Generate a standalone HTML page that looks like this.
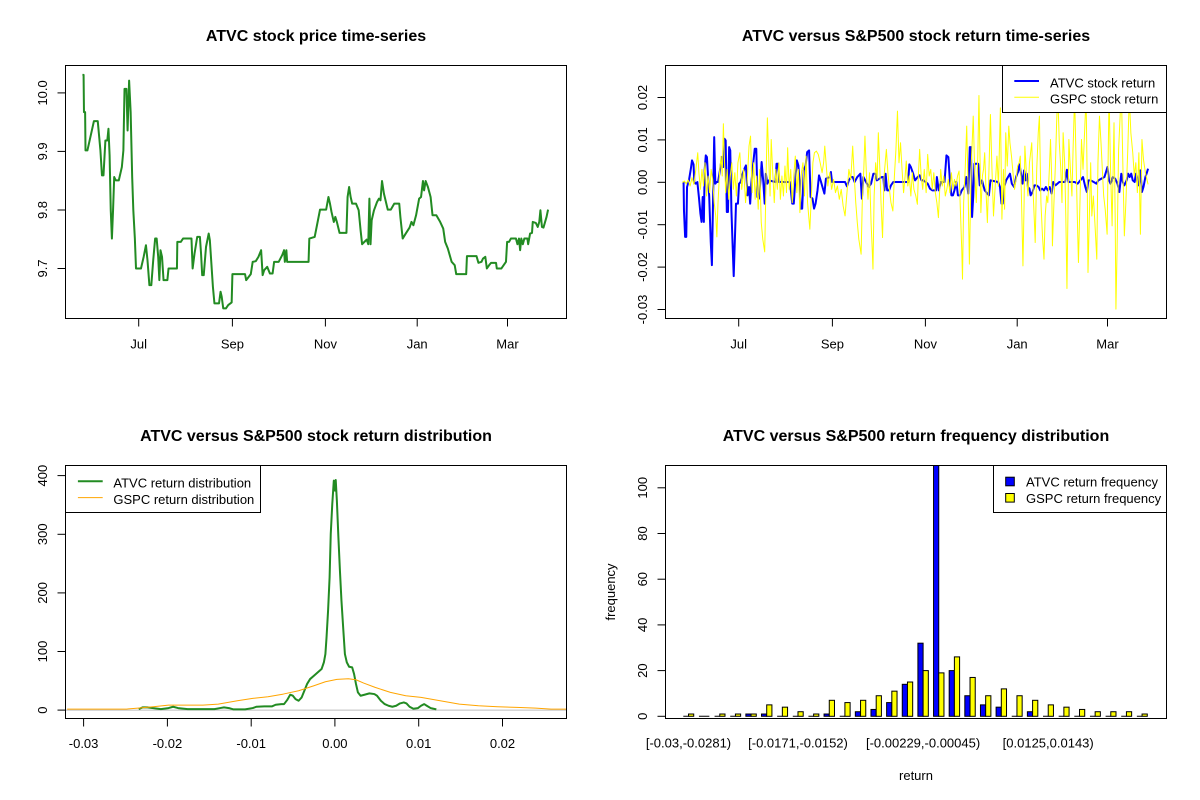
<!DOCTYPE html>
<html><head><meta charset="utf-8"><style>
html,body{margin:0;padding:0;background:#fff;}
svg{display:block;}
text{font-family:"Liberation Sans",Arial,sans-serif;fill:#000;}
.t{font-size:16px;font-weight:bold;}
.a{font-size:13px;}
</style></head><body>
<svg width="1200" height="800" viewBox="0 0 1200 800" xmlns="http://www.w3.org/2000/svg">
<rect width="1200" height="800" fill="#fff"/>
<defs>
<clipPath id="c1"><rect x="65.5" y="65.5" width="501" height="253"/></clipPath>
<clipPath id="c2"><rect x="665.5" y="65.5" width="501" height="253"/></clipPath>
<clipPath id="c3"><rect x="65.5" y="465.5" width="501" height="253"/></clipPath>
<clipPath id="c4"><rect x="665.5" y="465.5" width="501" height="253"/></clipPath>
</defs>

<!-- ===== Panel 1 ===== -->
<text class="t" x="316" y="41" text-anchor="middle">ATVC stock price time-series</text>
<g clip-path="url(#c1)">
<g transform="matrix(0.3826 0 0 0.3326 0.18 40.66)">
<polyline fill="none" stroke="#228B22" stroke-width="2" vector-effect="non-scaling-stroke" stroke-linejoin="round" points="215,103 218,103 219,215 222,215 223,330 228,330 245,242 255,242 262,330 266,405 270,405 275,300 280,300 283,265 286,345 289,510 292,595 295,510 298,410 302,420 310,420 318,380 322,330 325,145 330,145 333,270 337,120 341,215 345,410 348,510 352,595 355,685 368,685 375,650 381,615 385,660 390,735 395,735 400,660 405,595 409,595 413,650 416,720 419,630 423,650 427,720 437,720 440,685 462,685 463,605 472,605 478,595 500,595 503,685 508,640 515,590 522,590 525,640 528,705 532,705 538,620 545,580 548,600 556,740 560,790 572,790 576,755 579,770 583,805 590,805 596,795 605,787 607,702 640,702 643,720 655,702 660,665 668,663 675,650 682,630 686,705 690,690 698,680 705,700 712,700 716,665 728,665 737,645 742,630 744,665 748,630 750,665 806,665 808,595 822,590 828,555 836,508 852,508 858,470 862,490 866,515 872,545 876,530 880,545 887,578 905,578 908,470 912,440 916,470 920,490 930,490 937,510 942,570 946,612 952,605 958,598 962,612 965,475 968,612 971,540 977,510 985,485 990,475 994,480 998,422 1003,460 1013,508 1021,508 1030,490 1043,490 1046,530 1052,595 1060,580 1070,562 1075,545 1080,555 1087,525 1095,475 1100,470 1105,422 1108,450 1112,422 1118,440 1125,470 1130,525 1140,525 1150,545 1158,565 1163,605 1170,625 1180,665 1188,675 1192,702 1218,702 1220,648 1245,648 1250,668 1258,665 1262,655 1268,650 1272,685 1278,675 1283,668 1296,668 1298,685 1310,685 1322,665 1325,605 1330,605 1335,595 1348,595 1352,612 1356,595 1359,630 1362,595 1366,612 1370,595 1378,595 1380,612 1385,580 1390,578 1392,545 1400,548 1405,560 1409,545 1412,510 1416,560 1420,562 1428,530 1432,508"/>
</g></g>
<rect x="65.5" y="65.5" width="501" height="253" fill="none" stroke="#000" stroke-width="1"/>
<g stroke="#000" stroke-width="1">
<line x1="138.7" y1="318.5" x2="138.7" y2="326.5"/><line x1="232.4" y1="318.5" x2="232.4" y2="326.5"/><line x1="325.4" y1="318.5" x2="325.4" y2="326.5"/><line x1="417.2" y1="318.5" x2="417.2" y2="326.5"/><line x1="507.5" y1="318.5" x2="507.5" y2="326.5"/>
<line x1="57.5" y1="268.5" x2="65.5" y2="268.5"/><line x1="57.5" y1="210" x2="65.5" y2="210"/><line x1="57.5" y1="151.4" x2="65.5" y2="151.4"/><line x1="57.5" y1="92.9" x2="65.5" y2="92.9"/>
</g>
<g class="a" font-size="13">
<text class="a" x="138.7" y="348.3" text-anchor="middle">Jul</text>
<text class="a" x="232.4" y="348.3" text-anchor="middle">Sep</text>
<text class="a" x="325.4" y="348.3" text-anchor="middle">Nov</text>
<text class="a" x="417.2" y="348.3" text-anchor="middle">Jan</text>
<text class="a" x="507.5" y="348.3" text-anchor="middle">Mar</text>
<text class="a" transform="translate(47,268.5) rotate(-90)" text-anchor="middle">9.7</text>
<text class="a" transform="translate(47,210) rotate(-90)" text-anchor="middle">9.8</text>
<text class="a" transform="translate(47,151.4) rotate(-90)" text-anchor="middle">9.9</text>
<text class="a" transform="translate(47,92.9) rotate(-90)" text-anchor="middle">10.0</text>
</g>

<!-- ===== Panel 2 ===== -->
<text class="t" x="916" y="41" text-anchor="middle">ATVC versus S&amp;P500 stock return time-series</text>
<g clip-path="url(#c2)">
<g transform="translate(600,0) matrix(0.3826 0 0 0.3326 0.18 40.66)">
<polyline fill="none" stroke="#0000FF" stroke-width="2" vector-effect="non-scaling-stroke" stroke-linejoin="round" points="215,427 218,427 219,510 222,590 225,590 227,440 232,420 237,385 240,360 244,372 246,425 250,430 254,425 258,470 262,520 265,545 268,470 271,545 273,390 276,345 279,350 282,410 285,470 289,605 292,675 295,480 298,290 301,430 304,425 308,425 313,390 318,350 322,380 325,295 328,300 331,515 334,515 337,320 340,330 343,510 346,610 349,708 352,600 355,490 360,490 363,430 367,425 371,405 377,385 381,375 385,465 389,440 392,490 395,430 399,380 404,325 408,325 411,470 415,475 419,420 422,365 426,420 430,490 433,400 437,430 441,420 458,425 461,370 465,370 468,425 490,425 496,425 502,490 506,490 510,420 514,360 518,375 521,420 524,505 528,505 532,390 537,375 541,335 546,330 550,470 555,475 559,505 563,490 568,450 572,405 576,420 581,440 586,460 590,415 600,410 603,395 606,425 640,425 645,438 650,420 656,410 660,410 665,425 672,410 680,400 684,475 688,410 695,425 702,440 708,430 714,400 720,400 723,420 730,415 736,410 740,410 743,450 746,400 750,450 755,450 760,435 766,425 805,425 808,372 812,380 818,400 823,420 830,410 835,405 840,420 845,420 856,430 862,445 868,450 878,450 880,410 885,450 890,425 900,425 905,345 910,350 914,420 918,465 922,465 926,450 931,425 935,465 940,465 945,450 952,440 957,410 962,460 966,320 969,320 972,530 975,470 978,370 983,370 988,370 992,435 998,420 1005,450 1012,460 1016,465 1020,420 1040,425 1045,440 1049,490 1052,490 1056,440 1061,420 1066,410 1071,400 1076,430 1082,440 1087,410 1092,395 1096,372 1100,400 1104,430 1108,390 1112,420 1115,400 1118,440 1122,445 1125,465 1130,455 1135,435 1140,435 1146,440 1150,450 1155,445 1160,450 1165,440 1170,450 1175,440 1180,460 1184,425 1190,435 1200,425 1215,425 1220,388 1224,425 1232,425 1240,425 1248,430 1255,420 1262,410 1268,440 1272,455 1276,420 1282,420 1290,425 1297,430 1302,420 1310,415 1318,410 1322,395 1326,380 1330,420 1334,430 1340,410 1346,415 1352,430 1357,455 1362,400 1366,425 1370,435 1376,420 1380,400 1384,410 1388,400 1392,420 1397,425 1400,400 1404,425 1408,435 1412,390 1416,455 1420,440 1425,410 1428,400 1432,385"/>
<g transform="translate(0,427) scale(1,-1)">
<polyline fill="none" stroke="#FFFF00" stroke-width="1" vector-effect="non-scaling-stroke" stroke-linejoin="round" points="215,0 220,5 225,-3 230,8 235,-10 240,15 245,-5 250,40 255,90 258,30 262,-20 266,40 270,-10 274,60 278,-40 282,20 286,-30 290,40 294,10 298,-60 302,-100 305,-163 308,-60 312,30 316,80 319,20 322,177 325,60 328,-30 332,40 336,-50 340,20 344,60 348,-20 352,30 356,-40 360,60 365,90 370,-20 375,40 380,-60 385,20 389,110 393,140 397,-30 401,60 405,-50 409,20 413,-80 417,40 421,-120 425,-170 430,-208 434,40 437,195 441,60 444,-40 447,130 451,30 455,-60 459,40 463,-20 467,60 471,-50 475,20 479,-40 483,50 487,-30 490,105 494,-20 498,40 502,-60 506,20 510,80 514,-30 518,40 522,-90 526,30 530,60 534,-40 538,80 542,-60 545,-100 548,-140 552,-40 556,60 560,90 565,95 570,85 575,60 580,30 584,60 587,110 591,50 595,-10 600,30 605,-20 610,10 615,-30 620,-10 625,-50 630,-20 635,-70 640,-100 645,-30 650,40 655,10 660,110 664,20 668,-60 672,-120 676,-170 680,-200 682,-215 685,-60 689,40 692,140 696,20 700,-50 704,30 708,-120 711,-200 713,-260 716,-40 720,60 724,10 727,150 731,40 734,-60 738,-165 742,20 745,60 748,100 752,30 756,-20 760,-60 765,-85 769,20 773,100 777,215 781,60 785,120 789,40 793,-30 797,20 800,65 804,-10 808,20 812,-40 816,30 820,-20 825,-40 829,-65 832,30 835,100 839,20 843,-20 847,40 852,-30 856,85 860,20 864,40 868,-20 872,30 876,-30 880,-60 884,-105 887,-30 890,40 894,-10 898,20 902,-40 906,-20 910,10 914,-30 918,30 922,-20 926,10 930,-10 934,20 938,35 942,-100 945,-200 947,-290 950,-60 954,40 958,170 961,20 965,-245 968,-60 970,60 973,140 975,200 979,30 983,-60 987,80 990,262 993,60 995,-90 999,20 1002,40 1005,90 1009,-40 1012,-120 1016,30 1020,205 1024,40 1028,-100 1032,-20 1037,80 1041,-10 1046,225 1050,-110 1054,40 1057,-80 1060,150 1064,50 1068,170 1071,120 1075,80 1079,30 1083,-20 1087,10 1091,50 1095,60 1098,80 1101,-40 1105,-250 1108,-60 1110,110 1114,30 1118,-40 1122,60 1125,90 1128,120 1132,-40 1135,-120 1137,-180 1141,40 1145,150 1148,200 1152,-60 1156,-160 1160,-230 1163,-100 1167,-40 1170,-60 1174,40 1177,130 1180,20 1182,-190 1186,-60 1190,60 1193,180 1196,270 1200,120 1204,40 1207,-60 1210,150 1214,60 1217,-100 1220,-318 1223,-60 1225,130 1229,40 1233,-40 1236,100 1240,260 1244,60 1247,-100 1250,-240 1254,-60 1258,130 1262,40 1266,150 1270,260 1273,0 1275,-270 1279,-80 1282,60 1285,-100 1289,-40 1293,-120 1298,-230 1301,60 1305,200 1309,120 1312,50 1316,-40 1320,-80 1325,-155 1328,100 1330,260 1334,40 1338,-130 1341,60 1343,180 1346,-100 1348,-380 1351,-200 1355,100 1359,200 1362,290 1366,60 1370,-160 1374,-60 1379,100 1383,260 1387,150 1392,90 1396,20 1400,60 1404,-30 1408,90 1412,-155 1416,130 1420,70 1425,30 1429,10 1432,-5"/>
</g>
</g></g>
<rect x="665.5" y="65.5" width="501" height="253" fill="none" stroke="#000" stroke-width="1"/>
<rect x="1002.5" y="65.5" width="164" height="47" fill="#fff" stroke="#000" stroke-width="1"/>
<line x1="1014.3" y1="81" x2="1039" y2="81" stroke="#0000FF" stroke-width="2"/>
<line x1="1014.3" y1="97.3" x2="1039" y2="97.3" stroke="#FFFF00" stroke-width="1"/>
<text class="a" x="1050" y="87.3">ATVC stock return</text>
<text class="a" x="1050" y="103.6">GSPC stock return</text>
<g stroke="#000" stroke-width="1">
<line x1="738.7" y1="318.5" x2="738.7" y2="326.5"/><line x1="832.4" y1="318.5" x2="832.4" y2="326.5"/><line x1="925.4" y1="318.5" x2="925.4" y2="326.5"/><line x1="1017.2" y1="318.5" x2="1017.2" y2="326.5"/><line x1="1107.5" y1="318.5" x2="1107.5" y2="326.5"/>
<line x1="657.5" y1="97.5" x2="665.5" y2="97.5"/><line x1="657.5" y1="139.9" x2="665.5" y2="139.9"/><line x1="657.5" y1="182.3" x2="665.5" y2="182.3"/><line x1="657.5" y1="224.7" x2="665.5" y2="224.7"/><line x1="657.5" y1="267.1" x2="665.5" y2="267.1"/><line x1="657.5" y1="309.5" x2="665.5" y2="309.5"/>
</g>
<text class="a" x="738.7" y="348.3" text-anchor="middle">Jul</text>
<text class="a" x="832.4" y="348.3" text-anchor="middle">Sep</text>
<text class="a" x="925.4" y="348.3" text-anchor="middle">Nov</text>
<text class="a" x="1017.2" y="348.3" text-anchor="middle">Jan</text>
<text class="a" x="1107.5" y="348.3" text-anchor="middle">Mar</text>
<text class="a" transform="translate(647,97.5) rotate(-90)" text-anchor="middle">0.02</text>
<text class="a" transform="translate(647,139.9) rotate(-90)" text-anchor="middle">0.01</text>
<text class="a" transform="translate(647,182.3) rotate(-90)" text-anchor="middle">0.00</text>
<text class="a" transform="translate(647,224.7) rotate(-90)" text-anchor="middle">-0.01</text>
<text class="a" transform="translate(647,267.1) rotate(-90)" text-anchor="middle">-0.02</text>
<text class="a" transform="translate(647,309.5) rotate(-90)" text-anchor="middle">-0.03</text>

<!-- ===== Panel 3 ===== -->
<text class="t" x="316" y="441" text-anchor="middle">ATVC versus S&amp;P500 stock return distribution</text>
<g clip-path="url(#c3)">
<line x1="65.5" y1="710.1" x2="566.5" y2="710.1" stroke="#BEBEBE" stroke-width="1"/>
<g transform="matrix(0.3826 0 0 0.3335 0.18 420.6)">
<polyline fill="none" stroke="#228B22" stroke-width="2" vector-effect="non-scaling-stroke" stroke-linejoin="round" points="362,865 372,860 385,860 400,862 420,865 440,862 452,858 465,862 490,865 520,865 560,865 575,862 585,860 598,862 610,866 640,866 660,862 670,858 690,857 710,857 720,852 735,850 742,850 750,838 758,822 765,825 772,835 780,840 788,830 795,810 802,790 810,775 820,765 830,755 840,745 846,725 850,700 853,650 857,570 861,470 864,340 868,250 872,180 875,210 877,178 880,240 884,350 888,450 892,540 897,630 901,700 906,725 912,738 920,740 925,760 930,790 935,815 942,825 952,822 965,818 978,820 985,825 995,840 1005,850 1015,855 1025,858 1035,855 1045,848 1055,845 1062,848 1070,858 1080,864 1092,862 1100,855 1108,850 1115,855 1125,862 1140,866"/>
<polyline fill="none" stroke="#FFA500" stroke-width="1" vector-effect="non-scaling-stroke" stroke-linejoin="round" points="175,865 330,865 360,862 400,858 440,853 480,853 530,853 570,850 620,840 660,833 700,828 740,820 780,810 820,795 850,783 880,776 910,774 930,777 950,787 980,800 1020,815 1060,825 1100,830 1150,840 1200,850 1250,855 1300,858 1350,860 1400,862 1440,865 1480,865"/>
</g></g>
<rect x="65.5" y="465.5" width="501" height="253" fill="none" stroke="#000" stroke-width="1"/>
<rect x="65.5" y="465.5" width="195" height="47" fill="#fff" stroke="#000" stroke-width="1"/>
<line x1="77.9" y1="481.3" x2="102.7" y2="481.3" stroke="#228B22" stroke-width="2"/>
<line x1="77.9" y1="497.6" x2="102.7" y2="497.6" stroke="#FFA500" stroke-width="1"/>
<text class="a" x="113.4" y="487.5">ATVC return distribution</text>
<text class="a" x="113.4" y="503.8">GSPC return distribution</text>
<g stroke="#000" stroke-width="1">
<line x1="83.6" y1="718.5" x2="83.6" y2="726.5"/><line x1="167.4" y1="718.5" x2="167.4" y2="726.5"/><line x1="251.2" y1="718.5" x2="251.2" y2="726.5"/><line x1="334.9" y1="718.5" x2="334.9" y2="726.5"/><line x1="418.7" y1="718.5" x2="418.7" y2="726.5"/><line x1="502.5" y1="718.5" x2="502.5" y2="726.5"/>
<line x1="57.5" y1="710.1" x2="65.5" y2="710.1"/><line x1="57.5" y1="651.5" x2="65.5" y2="651.5"/><line x1="57.5" y1="592.9" x2="65.5" y2="592.9"/><line x1="57.5" y1="534.3" x2="65.5" y2="534.3"/><line x1="57.5" y1="475.6" x2="65.5" y2="475.6"/>
</g>
<text class="a" x="83.6" y="748" text-anchor="middle">-0.03</text>
<text class="a" x="167.4" y="748" text-anchor="middle">-0.02</text>
<text class="a" x="251.2" y="748" text-anchor="middle">-0.01</text>
<text class="a" x="334.9" y="748" text-anchor="middle">0.00</text>
<text class="a" x="418.7" y="748" text-anchor="middle">0.01</text>
<text class="a" x="502.5" y="748" text-anchor="middle">0.02</text>
<text class="a" transform="translate(47,710.1) rotate(-90)" text-anchor="middle">0</text>
<text class="a" transform="translate(47,651.5) rotate(-90)" text-anchor="middle">100</text>
<text class="a" transform="translate(47,592.9) rotate(-90)" text-anchor="middle">200</text>
<text class="a" transform="translate(47,534.3) rotate(-90)" text-anchor="middle">300</text>
<text class="a" transform="translate(47,475.6) rotate(-90)" text-anchor="middle">400</text>

<!-- ===== Panel 4 ===== -->
<text class="t" x="916" y="441" text-anchor="middle">ATVC versus S&amp;P500 return frequency distribution</text>
<g clip-path="url(#c4)" stroke="#000" stroke-width="1">
<g fill="#0000FF">
<rect x="745.86" y="714.01" width="5.21" height="2.29"/>
<rect x="761.5" y="714.01" width="5.21" height="2.29"/>
<rect x="824.06" y="714.01" width="5.21" height="2.29"/>
<rect x="855.34" y="711.73" width="5.21" height="4.57"/>
<rect x="870.98" y="709.44" width="5.21" height="6.86"/>
<rect x="886.62" y="702.59" width="5.21" height="13.71"/>
<rect x="902.26" y="684.31" width="5.21" height="31.99"/>
<rect x="917.9" y="643.18" width="5.21" height="73.12"/>
<rect x="933.54" y="460" width="5.21" height="256.3"/>
<rect x="949.18" y="670.6" width="5.21" height="45.7"/>
<rect x="964.82" y="695.73" width="5.21" height="20.57"/>
<rect x="980.46" y="704.87" width="5.21" height="11.43"/>
<rect x="996.1" y="707.16" width="5.21" height="9.14"/>
<rect x="1027.38" y="711.73" width="5.21" height="4.57"/>
</g>
<g fill="#FFFF00">
<rect x="688.51" y="714.01" width="5.21" height="2.29"/>
<rect x="719.79" y="714.01" width="5.21" height="2.29"/>
<rect x="735.43" y="714.01" width="5.21" height="2.29"/>
<rect x="751.07" y="714.01" width="5.21" height="2.29"/>
<rect x="766.71" y="704.87" width="5.21" height="11.43"/>
<rect x="782.35" y="707.16" width="5.21" height="9.14"/>
<rect x="797.99" y="711.73" width="5.21" height="4.57"/>
<rect x="813.63" y="714.01" width="5.21" height="2.29"/>
<rect x="829.27" y="700.3" width="5.21" height="16"/>
<rect x="844.91" y="702.59" width="5.21" height="13.71"/>
<rect x="860.55" y="700.3" width="5.21" height="16"/>
<rect x="876.19" y="695.73" width="5.21" height="20.57"/>
<rect x="891.83" y="691.16" width="5.21" height="25.14"/>
<rect x="907.47" y="682.02" width="5.21" height="34.28"/>
<rect x="923.11" y="670.6" width="5.21" height="45.7"/>
<rect x="938.75" y="672.88" width="5.21" height="43.42"/>
<rect x="954.39" y="656.89" width="5.21" height="59.41"/>
<rect x="970.03" y="677.45" width="5.21" height="38.85"/>
<rect x="985.67" y="695.73" width="5.21" height="20.57"/>
<rect x="1001.31" y="688.88" width="5.21" height="27.42"/>
<rect x="1016.95" y="695.73" width="5.21" height="20.57"/>
<rect x="1032.59" y="700.3" width="5.21" height="16"/>
<rect x="1048.23" y="704.87" width="5.21" height="11.43"/>
<rect x="1063.87" y="707.16" width="5.21" height="9.14"/>
<rect x="1079.51" y="709.44" width="5.21" height="6.86"/>
<rect x="1095.15" y="711.73" width="5.21" height="4.57"/>
<rect x="1110.79" y="711.73" width="5.21" height="4.57"/>
<rect x="1126.43" y="711.73" width="5.21" height="4.57"/>
<rect x="1142.07" y="714.01" width="5.21" height="2.29"/>
</g>
<path fill="none" d="M683.3 716.3h5.21M698.94 716.3h5.21M704.15 716.3h5.21M714.58 716.3h5.21M730.22 716.3h5.21M777.14 716.3h5.21M792.78 716.3h5.21M808.42 716.3h5.21M839.7 716.3h5.21M1011.74 716.3h5.21M1043.02 716.3h5.21M1058.66 716.3h5.21M1074.3 716.3h5.21M1089.94 716.3h5.21M1105.58 716.3h5.21M1121.22 716.3h5.21M1136.86 716.3h5.21"/>
</g>
<rect x="665.5" y="465.5" width="501" height="253" fill="none" stroke="#000" stroke-width="1"/>
<rect x="993.5" y="465.5" width="173" height="47" fill="#fff" stroke="#000" stroke-width="1"/>
<rect x="1005.7" y="477.2" width="8.6" height="8.6" fill="#0000FF" stroke="#000" stroke-width="1"/>
<rect x="1005.7" y="493.5" width="8.6" height="8.6" fill="#FFFF00" stroke="#000" stroke-width="1"/>
<text class="a" x="1026" y="486.5">ATVC return frequency</text>
<text class="a" x="1026" y="502.8">GSPC return frequency</text>
<g stroke="#000" stroke-width="1">
<line x1="657.5" y1="716.3" x2="665.5" y2="716.3"/><line x1="657.5" y1="670.6" x2="665.5" y2="670.6"/><line x1="657.5" y1="624.9" x2="665.5" y2="624.9"/><line x1="657.5" y1="579.2" x2="665.5" y2="579.2"/><line x1="657.5" y1="533.5" x2="665.5" y2="533.5"/><line x1="657.5" y1="487.8" x2="665.5" y2="487.8"/>
</g>
<text class="a" transform="translate(647,716.3) rotate(-90)" text-anchor="middle">0</text>
<text class="a" transform="translate(647,670.6) rotate(-90)" text-anchor="middle">20</text>
<text class="a" transform="translate(647,624.9) rotate(-90)" text-anchor="middle">40</text>
<text class="a" transform="translate(647,579.2) rotate(-90)" text-anchor="middle">60</text>
<text class="a" transform="translate(647,533.5) rotate(-90)" text-anchor="middle">80</text>
<text class="a" transform="translate(647,487.8) rotate(-90)" text-anchor="middle">100</text>
<text class="a" x="688.5" y="747.5" text-anchor="middle">[-0.03,-0.0281)</text>
<text class="a" x="798" y="747.5" text-anchor="middle">[-0.0171,-0.0152)</text>
<text class="a" x="923.1" y="747.5" text-anchor="middle">[-0.00229,-0.00045)</text>
<text class="a" x="1048.2" y="747.5" text-anchor="middle">[0.0125,0.0143)</text>
<text class="a" x="916" y="780" text-anchor="middle">return</text>
<text class="a" transform="translate(615,592) rotate(-90)" text-anchor="middle">frequency</text>
</svg>
</body></html>
